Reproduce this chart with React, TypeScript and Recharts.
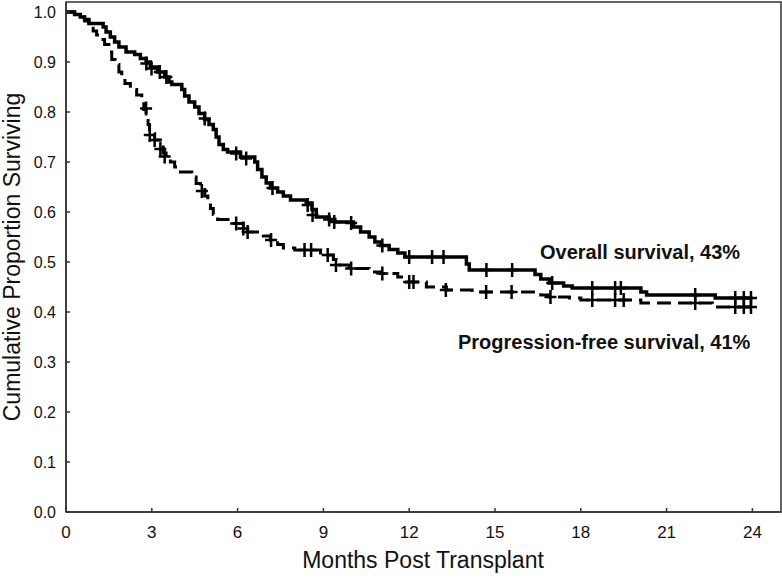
import {
  ComposedChart,
  Line,
  Scatter,
  XAxis,
  YAxis,
  ReferenceArea,
} from "recharts";

// Kaplan-Meier step points: [month, proportion surviving]
const osSteps: [number, number][] = [
  [0, 1.0], [0.3, 0.995], [0.5, 0.99], [0.65, 0.985], [0.8, 0.977],
  [1.3, 0.97], [1.4, 0.96], [1.55, 0.95], [1.7, 0.94], [1.85, 0.93],
  [2.1, 0.92], [2.4, 0.915], [2.6, 0.907], [2.8, 0.9], [2.95, 0.89],
  [3.2, 0.88], [3.45, 0.87], [3.6, 0.86], [3.7, 0.855], [4.05, 0.845],
  [4.15, 0.832], [4.3, 0.82], [4.5, 0.81], [4.65, 0.797], [4.85, 0.785],
  [5.0, 0.775], [5.15, 0.765], [5.25, 0.75], [5.35, 0.735], [5.5, 0.725],
  [5.65, 0.72], [6.1, 0.71], [6.6, 0.7], [6.7, 0.685], [6.85, 0.67],
  [7.0, 0.658], [7.15, 0.648], [7.4, 0.64], [7.6, 0.632], [7.85, 0.624],
  [8.4, 0.618], [8.6, 0.605], [8.75, 0.59], [9.2, 0.585], [9.4, 0.58],
  [10.05, 0.57], [10.3, 0.56], [10.6, 0.55], [10.8, 0.54], [11.0, 0.533],
  [11.3, 0.525], [11.6, 0.518], [11.85, 0.51], [14.0, 0.496], [14.1, 0.484],
  [16.4, 0.475], [16.6, 0.466], [16.9, 0.458], [17.4, 0.452], [17.7, 0.448],
  [20.1, 0.44], [20.3, 0.434], [22.7, 0.428], [24.0, 0.428],
];

const pfsSteps: [number, number][] = [
  [0, 1.0], [0.3, 0.995], [0.5, 0.99], [0.65, 0.982], [0.8, 0.972],
  [0.95, 0.962], [1.07, 0.954], [1.2, 0.945], [1.35, 0.935], [1.5, 0.92],
  [1.6, 0.905], [1.72, 0.895], [1.85, 0.88], [1.95, 0.868], [2.06, 0.857],
  [2.25, 0.845], [2.47, 0.834], [2.65, 0.82], [2.72, 0.805], [2.8, 0.79],
  [2.87, 0.775], [2.92, 0.757], [3.1, 0.744], [3.3, 0.73], [3.4, 0.718],
  [3.5, 0.71], [3.65, 0.7], [3.8, 0.69], [4.0, 0.68], [4.4, 0.67],
  [4.55, 0.657], [4.7, 0.645], [4.85, 0.632], [4.96, 0.62], [5.05, 0.607],
  [5.15, 0.595], [5.3, 0.585], [5.8, 0.577], [6.2, 0.567], [6.35, 0.56],
  [6.9, 0.552], [7.15, 0.544], [7.4, 0.535], [7.6, 0.528], [8.0, 0.524],
  [8.9, 0.518], [9.15, 0.514], [9.35, 0.505], [9.44, 0.494], [9.9, 0.487],
  [10.6, 0.48], [11.0, 0.477], [11.6, 0.47], [11.9, 0.46], [12.6, 0.45],
  [13.3, 0.444], [14.2, 0.44], [16.6, 0.434], [16.9, 0.43], [17.6, 0.428],
  [18.0, 0.424], [20.1, 0.418], [22.6, 0.41], [24.0, 0.41],
];

// censored observations (+ marks)
const osCensored: [number, number][] = [
  [2.81, 0.897], [2.99, 0.887], [3.28, 0.88], [3.51, 0.87], [4.85, 0.787],
  [5.95, 0.717], [6.3, 0.707], [7.22, 0.648], [8.45, 0.614], [8.62, 0.594],
  [9.2, 0.585], [9.38, 0.58], [9.97, 0.578], [11.06, 0.533], [12.0, 0.51],
  [12.8, 0.51], [13.2, 0.51], [14.7, 0.484], [15.6, 0.484], [17.0, 0.458],
  [18.4, 0.448], [19.2, 0.448], [19.4, 0.448], [22.0, 0.434], [23.4, 0.428],
  [23.7, 0.428], [23.95, 0.428],
];

const pfsCensored: [number, number][] = [
  [2.8, 0.807], [2.93, 0.754], [3.1, 0.744], [3.3, 0.726], [3.45, 0.711],
  [4.75, 0.642], [5.95, 0.577], [6.2, 0.567], [6.35, 0.56], [7.17, 0.544],
  [8.34, 0.524], [8.57, 0.524], [9.15, 0.514], [9.44, 0.494], [9.97, 0.487],
  [11.06, 0.477], [12.0, 0.46], [12.15, 0.46], [13.28, 0.444], [14.69, 0.44],
  [15.58, 0.44], [16.94, 0.43], [18.4, 0.424], [19.2, 0.424], [19.5, 0.424],
  [22.0, 0.418], [23.4, 0.41], [23.7, 0.41], [23.95, 0.41],
];

const xTicks = [0, 3, 6, 9, 12, 15, 18, 21, 24];
const yTicks = [0, 0.1, 0.2, 0.3, 0.4, 0.5, 0.6, 0.7, 0.8, 0.9, 1.0];

const toRows = (pts: [number, number][]) => pts.map(([t, s]) => ({ t, s }));

const FONT = "'Liberation Sans', Arial, sans-serif";
const AXIS = "#333";

const Plus = (props: any) => {
  const { cx, cy } = props;
  if (cx == null || cy == null) return null;
  return (
    <path
      d={`M${cx - 6},${cy}h12M${cx},${cy - 7}v14`}
      stroke="#000"
      strokeWidth={2.5}
      fill="none"
    />
  );
};

export default function App() {
  return (
    <div style={{ position: "absolute", left: 0, top: 0, width: 782, height: 578, background: "#fff" }}>
      <ComposedChart
        width={782}
        height={578}
        margin={{ top: 2, right: 1, bottom: 0, left: 0 }}
        style={{ fontFamily: FONT }}
      >
        <XAxis
          dataKey="t"
          type="number"
          domain={[0, 25]}
          ticks={xTicks}
          allowDataOverflow
          height={66}
          tickSize={-4}
          tickMargin={18}
          stroke={AXIS}
          strokeWidth={1.5}
          tick={{ fill: "#111", fontSize: 17, fontFamily: FONT }}
          label={{
            content: () => (
              <text x={423} y={568} textAnchor="middle" fontSize={23} fill="#111" fontFamily={FONT}>
                Months Post Transplant
              </text>
            ),
          }}
        />
        <YAxis
          type="number"
          domain={[0, 1.02]}
          ticks={yTicks}
          allowDataOverflow
          width={66}
          tickSize={-4}
          tickMargin={14}
          stroke={AXIS}
          strokeWidth={1.5}
          tickFormatter={(v: number) => v.toFixed(1)}
          tick={{ fill: "#111", fontSize: 16, fontFamily: FONT }}
          label={{
            content: () => (
              <text
                x={12}
                y={257}
                transform="rotate(-90 12 257)"
                textAnchor="middle"
                dominantBaseline="central"
                fontSize={23}
                fill="#111"
                fontFamily={FONT}
              >
                Cumulative Proportion Surviving
              </text>
            ),
          }}
        />
        <ReferenceArea x1={0} x2={25} y1={0} y2={1.02} fill="none" stroke={AXIS} strokeWidth={1.5} />
        <Line
          data={toRows(pfsSteps)}
          dataKey="s"
          type="stepAfter"
          stroke="#000"
          strokeWidth={3}
          strokeDasharray="14 7"
          dot={false}
          isAnimationActive={false}
        />
        <Line
          data={toRows(osSteps)}
          dataKey="s"
          type="stepAfter"
          stroke="#000"
          strokeWidth={3.5}
          dot={false}
          isAnimationActive={false}
        />
        <Scatter data={toRows(pfsCensored)} dataKey="s" shape={Plus} isAnimationActive={false} />
        <Scatter data={toRows(osCensored)} dataKey="s" shape={Plus} isAnimationActive={false} />
      </ComposedChart>
      <svg
        width={782}
        height={578}
        style={{ position: "absolute", left: 0, top: 0, pointerEvents: "none" }}
      >
        <text x={540} y={259} fontSize={20} fontWeight="bold" fill="#111" fontFamily={FONT}>
          Overall survival, 43%
        </text>
        <text x={458} y={349} fontSize={20} fontWeight="bold" fill="#111" fontFamily={FONT}>
          Progression-free survival, 41%
        </text>
      </svg>
    </div>
  );
}
